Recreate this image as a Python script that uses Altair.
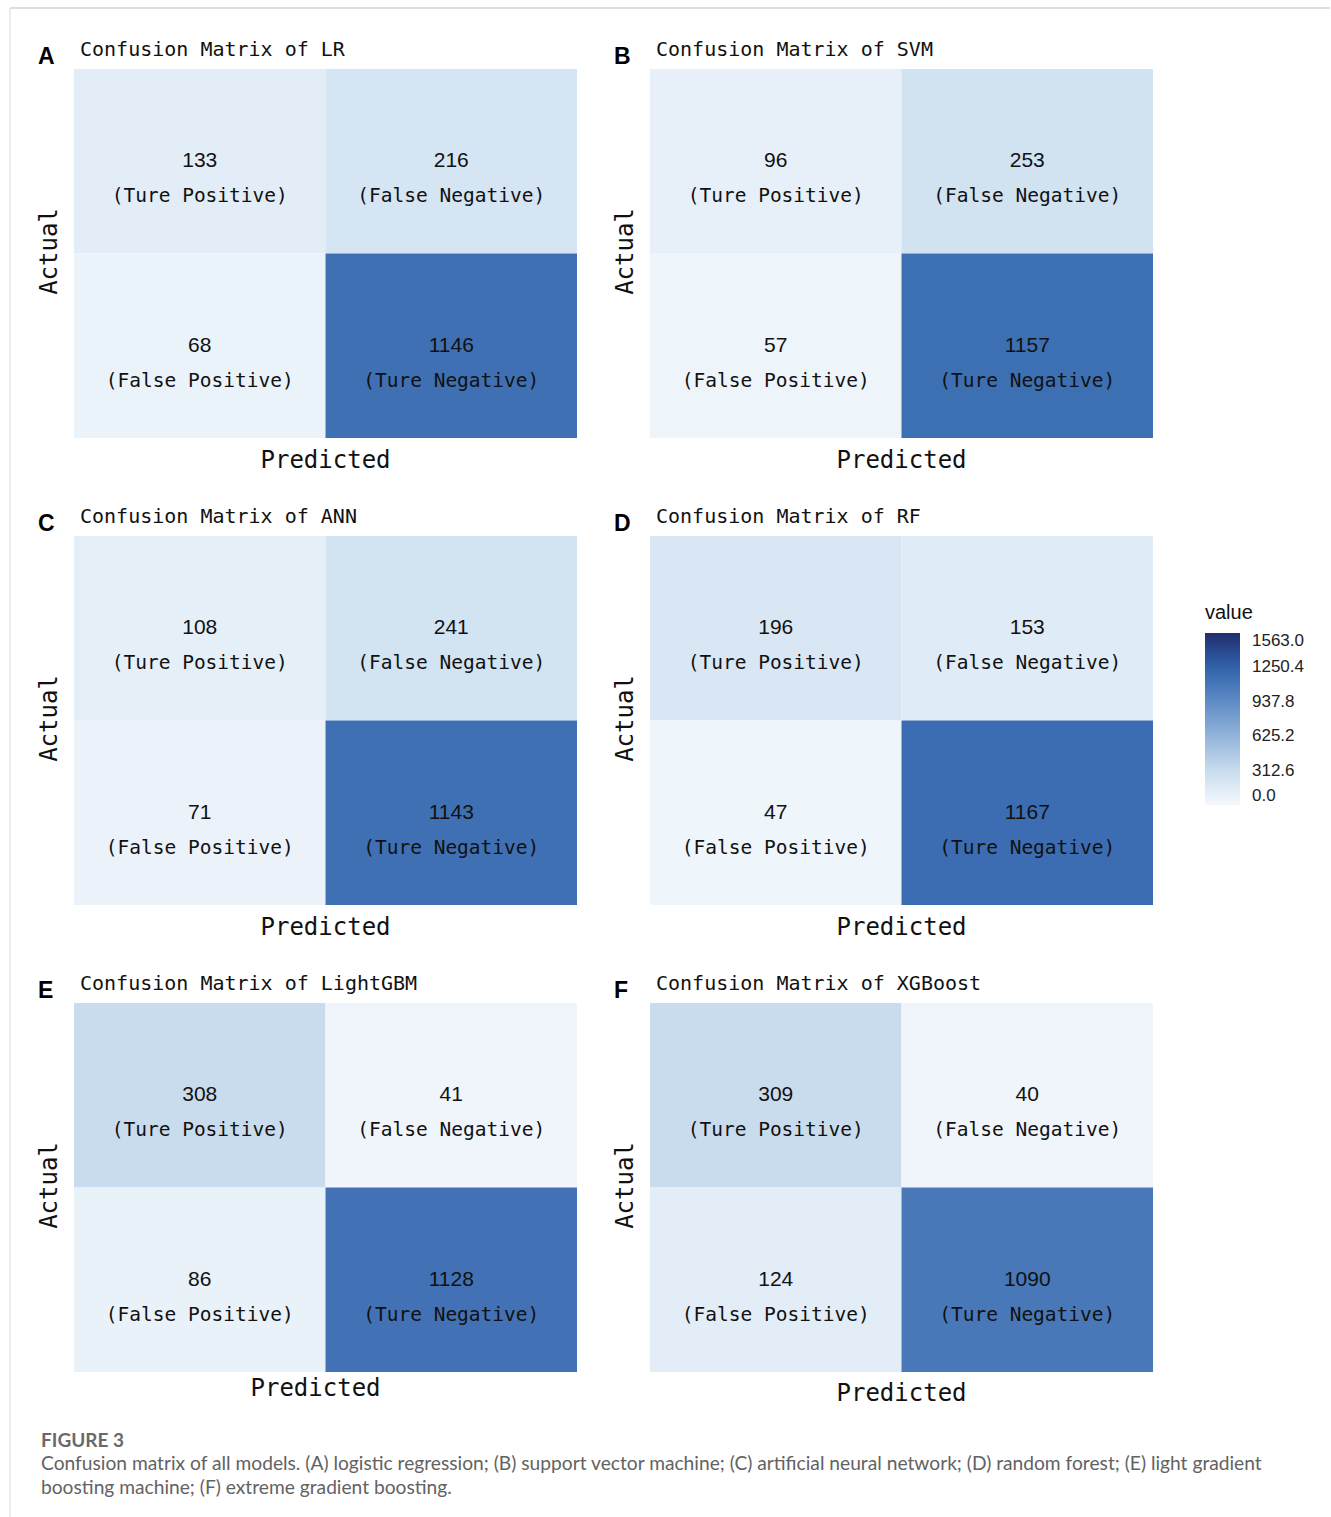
import altair as alt
import pandas as pd

# ---- data ----
models = ["LR", "SVM", "ANN", "RF", "LightGBM", "XGBoost"]
letters = ["A", "B", "C", "D", "E", "F"]
tp = [133, 96, 108, 196, 308, 309]
fn = [216, 253, 241, 153, 41, 40]
fp = [68, 57, 71, 47, 86, 124]
tn = [1146, 1157, 1143, 1167, 1128, 1090]
cell_names = ["(Ture Positive)", "(False Negative)", "(False Positive)", "(Ture Negative)"]
actual_cats = ["Positive", "Negative"]
pred_cats = ["Positive", "Negative"]
legend_values = [0.0, 312.6, 625.2, 937.8, 1250.4, 1563.0]
color_range = ["#f5f9fd", "#c8dcee", "#93b4da", "#5f8cc5", "#2f62ab", "#202e6c"]
caption_head = "FIGURE 3"
caption_lines = [
    "Confusion matrix of all models. (A) logistic regression; (B) support vector machine; (C) artificial neural network; (D) random forest; (E) light gradient",
    "boosting machine; (F) extreme gradient boosting.",
]

W, H = 503, 369
MONO = "DejaVu Sans Mono"
SANS = "Liberation Sans"


def panel(i, pred_dx=0, pred_dy=0, extra=None):
    vals = [tp[i], fn[i], fp[i], tn[i]]
    df = pd.DataFrame({
        "actual": ["Positive", "Positive", "Negative", "Negative"],
        "pred": ["Positive", "Negative", "Positive", "Negative"],
        "value": vals,
        "label": cell_names,
    })
    base = alt.Chart(df).encode(
        x=alt.X("pred:N", sort=pred_cats, axis=None,
                scale=alt.Scale(paddingInner=0, paddingOuter=0)),
        y=alt.Y("actual:N", sort=actual_cats, axis=None,
                scale=alt.Scale(paddingInner=0, paddingOuter=0)),
    )
    rect = base.mark_rect().encode(
        color=alt.Color(
            "value:Q",
            title="value",
            scale=alt.Scale(domain=legend_values, range=color_range, interpolate="rgb"),
            legend=alt.Legend(values=legend_values, format=".1f", labelOffset=12),
        )
    )
    num = base.mark_text(font=SANS, fontSize=21, baseline="middle", color="#111").encode(
        text="value:Q")
    lab = base.mark_text(font=MONO, fontSize=19.5, baseline="middle", dy=35, color="#111").encode(
        text="label:N")

    one = alt.Chart(pd.DataFrame({"k": [0]}))
    title = one.mark_text(text=f"Confusion Matrix of {models[i]}", font=MONO, fontSize=20,
                          align="left", baseline="alphabetic", color="#111").encode(
        x=alt.value(6), y=alt.value(-13))
    letter = one.mark_text(text=letters[i], font=SANS, fontSize=23, fontWeight="bold",
                           align="left", baseline="alphabetic", color="#000").encode(
        x=alt.value(-36), y=alt.value(-5))
    xlab = one.mark_text(text="Predicted", font=MONO, fontSize=24, align="center",
                         baseline="alphabetic", color="#111").encode(
        x=alt.value(W / 2 + pred_dx), y=alt.value(H + 30 + pred_dy))
    ylab = one.mark_text(text="Actual", font=MONO, fontSize=24, align="center",
                         baseline="middle", angle=270, color="#111").encode(
        x=alt.value(-24), y=alt.value(H / 2 - 2))
    layers = [rect, num, lab, title, letter, xlab, ylab]
    if extra:
        layers += extra
    return alt.layer(*layers).properties(width=W, height=H)


one = alt.Chart(pd.DataFrame({"k": [0]}))
border = [
    one.mark_rule(color="#d2d2d2", strokeWidth=1.5).encode(
        x=alt.value(-64), x2=alt.value(1256), y=alt.value(-61)),
    one.mark_rule(color="#d9d9d9", strokeWidth=1).encode(
        x=alt.value(-64), y=alt.value(-61), y2=alt.value(1448)),
]

caption = [
    one.mark_text(text=caption_head, font="Lato", fontSize=19, fontWeight="bold",
                  align="left", baseline="alphabetic", color="#6a6a6a").encode(
        x=alt.value(-33), y=alt.value(444)),
    one.mark_text(text=caption_lines[0], font="Lato", fontSize=19.2,
                  align="left", baseline="alphabetic", color="#626262").encode(
        x=alt.value(-33), y=alt.value(467)),
    one.mark_text(text=caption_lines[1], font="Lato", fontSize=19.2,
                  align="left", baseline="alphabetic", color="#626262").encode(
        x=alt.value(-33), y=alt.value(491)),
]

pA = panel(0, extra=border)
pB = panel(1)
pC = panel(2)
pD = panel(3)
pE = panel(4, pred_dx=-10, pred_dy=-6, extra=caption)
pF = panel(5, pred_dy=-1)

chart = alt.concat(
    pA, pB, pC, pD, pE, pF,
    columns=2,
    spacing={"row": 98, "column": 73},
    bounds="flush",
).resolve_scale(
    color="shared"
).properties(
    padding={"left": 9, "top": 7, "right": 0, "bottom": 0},
    background="white",
).configure_view(
    stroke=None
).configure_legend(
    orient="none",
    legendX=1131,
    legendY=534,
    direction="vertical",
    gradientLength=172,
    gradientThickness=35,
    gradientStrokeWidth=0,
    titleFont=SANS,
    titleFontSize=20,
    titleFontWeight="normal",
    titleColor="#111",
    titlePadding=10,
    labelFont=SANS,
    labelFontSize=17,
    labelColor="#222",
    labelOffset=12,
)

chart.save("out.html", embed_options={"renderer": "svg", "actions": False})
